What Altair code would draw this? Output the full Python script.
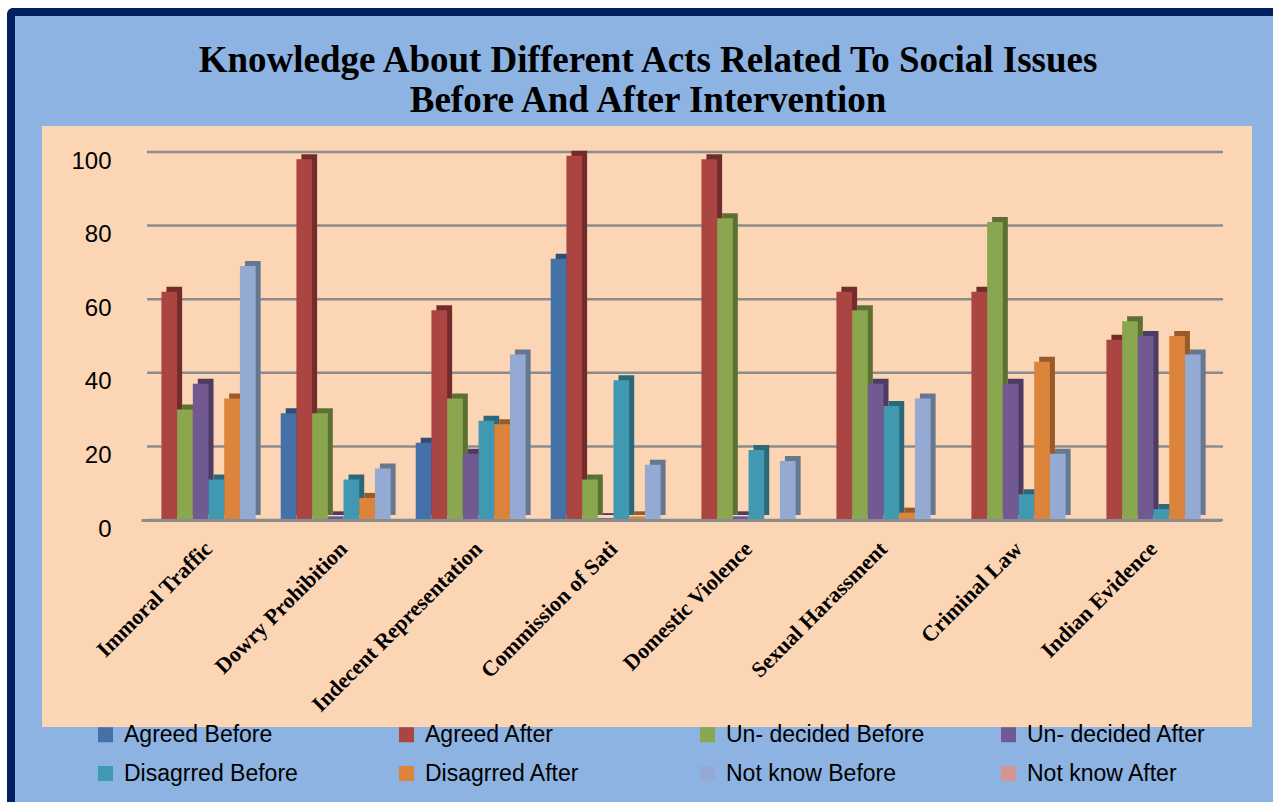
import altair as alt
import pandas as pd

categories = ["Immoral Traffic", "Dowry Prohibition", "Indecent Representation",
              "Commission of Sati", "Domestic Violence", "Sexual  Harassment",
              "Criminal Law", "Indian Evidence"]
series = ["Agreed Before", "Agreed After", "Un- decided Before", "Un- decided After",
          "Disagrred Before", "Disagrred After", "Not know Before", "Not know After"]

agreed_before    = [0, 29, 21, 71, 0, 0, 0, 0]
agreed_after     = [62, 98, 57, 99, 98, 62, 62, 49]
undecided_before = [30, 29, 33, 11, 82, 57, 81, 54]
undecided_after  = [37, 1, 18, 0.5, 1, 37, 37, 50]
disagreed_before = [11, 11, 27, 38, 19, 31, 7, 3]
disagreed_after  = [33, 6, 26, 1, 0, 2, 43, 50]
notknow_before   = [69, 14, 45, 15, 16, 33, 18, 45]
notknow_after    = [0, 0, 0, 0, 0, 0, 0, 0]

y_ticks = [0, 20, 40, 60, 80, 100]

front_colors = ["#4472A8", "#AB4542", "#8AA64E", "#735991", "#4199B1", "#DC843C", "#95AAD2", "#D49592"]
side_colors  = ["#2E4E75", "#722C2B", "#5C7034", "#4C3B62", "#2B6879", "#985A28", "#66788F", "#946765"]

values_by_series = [agreed_before, agreed_after, undecided_before, undecided_after,
                    disagreed_before, disagreed_after, notknow_before, notknow_after]

rows = []
for s, vals in zip(series, values_by_series):
    for c, v in zip(categories, vals):
        rows.append({"category": c, "series": s, "value": v})
df = pd.DataFrame(rows)
grid_df = pd.DataFrame({"tick": y_ticks})

W, H = 1080, 368
PAD_L, PAD_T = 141, 152

one = pd.DataFrame({"k": [0]})

navy = alt.Chart(one).mark_rect(color="#002060", cornerRadiusTopLeft=6).encode(
    x=alt.value(7 - PAD_L), x2=alt.value(1273 - PAD_L),
    y=alt.value(8 - PAD_T), y2=alt.value(802 - PAD_T))
blue = alt.Chart(one).mark_rect(color="#8DB3E2").encode(
    x=alt.value(15 - PAD_L), x2=alt.value(1273 - PAD_L),
    y=alt.value(16 - PAD_T), y2=alt.value(802 - PAD_T))
peach = alt.Chart(one).mark_rect(color="#FCD5B5").encode(
    x=alt.value(42 - PAD_L), x2=alt.value(1252 - PAD_L),
    y=alt.value(126 - PAD_T), y2=alt.value(727 - PAD_T))

xscale = alt.Scale(domain=categories, paddingInner=0.07, paddingOuter=0.035)
yscale = alt.Scale(domain=[0, 100], nice=False)

x_axis = alt.Axis(title=None, labelAngle=-45, labelAlign="right", labelBaseline="middle",
                  labelFont="Liberation Serif", labelFontWeight="bold", labelFontSize=22,
                  labelColor="black", labelPadding=25, ticks=False, grid=False,
                  domainColor="#8C8C8C", domainWidth=3, labelLimit=400, zindex=1)
y_axis = alt.Axis(title=None, values=y_ticks, domain=False, ticks=False, grid=False,
                  labelFont="Liberation Sans", labelFontSize=24, labelColor="black",
                  labelPadding=30, labelOffset=9, zindex=1)

grid = alt.Chart(grid_df).mark_rule(color="#8C8C8C", strokeWidth=2.5).encode(
    y=alt.Y("tick:Q", scale=yscale, axis=y_axis),
    x=alt.value(6), x2=alt.value(W + 2),
)

side = alt.Chart(df).mark_bar(yOffset=-5, opacity=1).encode(
    x=alt.X("category:N", scale=xscale, sort=categories, axis=x_axis),
    xOffset=alt.XOffset("series:N", sort=series,
                        scale=alt.Scale(domain=series, range=[5, 130.6], paddingInner=0, paddingOuter=0)),
    y=alt.Y("value:Q", scale=yscale, axis=y_axis),
    color=alt.Color("series:N", scale=alt.Scale(domain=series, range=side_colors), legend=None),
)

front = alt.Chart(df).mark_bar(opacity=1).encode(
    x=alt.X("category:N", scale=xscale, sort=categories, axis=x_axis),
    xOffset=alt.XOffset("series:N", sort=series,
                        scale=alt.Scale(domain=series, range=[0, 125.6], paddingInner=0, paddingOuter=0)),
    y=alt.Y("value:Q", scale=yscale, axis=y_axis),
    color=alt.Color("series:N", scale=alt.Scale(domain=series, range=front_colors),
                    legend=alt.Legend(title=None, orient="none", legendX=-47, legendY=571,
                                      direction="horizontal",
                                      columns=4, symbolType="square", symbolSize=225,
                                      symbolStrokeWidth=0, labelFont="Liberation Sans",
                                      labelFontSize=23, labelColor="black", labelOffset=7,
                                      columnPadding=72, rowPadding=15, gridAlign="all",
                                      labelLimit=400)),
)

chart = alt.layer(navy, blue, peach, grid, side, front).resolve_scale(
    xOffset="independent", color="independent"
).properties(
    width=W, height=H,
    autosize=alt.AutoSizeParams(type="none"),
    padding={"left": PAD_L, "top": PAD_T, "right": 1273 - PAD_L - W, "bottom": 802 - PAD_T - H},
    title=alt.TitleParams(
        text=["Knowledge About Different Acts Related To Social Issues",
              "Before And After Intervention"],
        font="Liberation Serif", fontWeight="bold", fontSize=37, lineHeight=40,
        color="black", anchor="middle", frame="group", dx=-33, offset=-112),
).configure(background="white").configure_view(stroke=None)

chart.save("out.html", embed_options={"renderer": "svg", "actions": False})
